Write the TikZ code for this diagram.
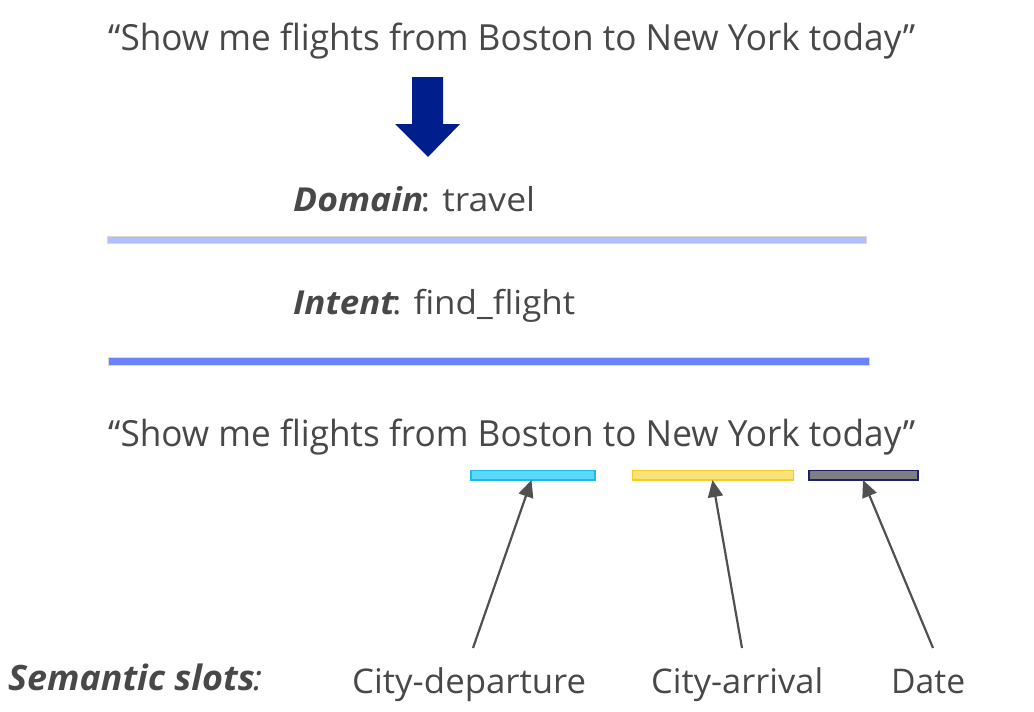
\documentclass[tikz,border=0pt]{standalone}
\usepackage{fontspec}
\setmainfont{Open Sans}
\usepackage{graphicx}
\usetikzlibrary{arrows.meta}
\definecolor{txt}{HTML}{484848}
\definecolor{navy}{RGB}{0,30,140}
\definecolor{lineA}{HTML}{B3BEFA}
\definecolor{lineB}{HTML}{6A82FA}
\definecolor{cyanfill}{HTML}{5CD9FA}
\definecolor{cyanedge}{HTML}{1FB8E8}
\definecolor{yelfill}{HTML}{FAE27A}
\definecolor{yeledge}{HTML}{F5CC20}
\definecolor{grayfill}{HTML}{7F7F7F}
\definecolor{grayedge}{HTML}{1A1F6E}
\definecolor{arr}{HTML}{505050}
\newcommand{\fitw}[2]{\resizebox{#1pt}{\height}{#2}}
\begin{document}
\begin{tikzpicture}[x=1pt,y=-1pt,
  lbl/.style={text=txt, inner sep=0pt, anchor=base west},
  sep/.style={draw=black!15, line width=0.6pt, inner sep=0pt, minimum height=#1},
  slot/.style={inner sep=0pt, minimum height=9.5pt, line width=1.5pt},
  ptr/.style={draw=arr, line width=2.2pt, -{Triangle[length=17pt,width=15pt]}}]
\useasboundingbox (0,0) rectangle (1034,712);

% sentence 1
\node[lbl, font=\fontsize{36}{40}\selectfont] (q1) at (108,50)
  {\fitw{807}{“Show me flights from Boston to New York today”}};

% block arrow
\fill[navy] (412,77) -- (443,77) -- (443,124) -- (460,124) -- (428,157)
  -- (395,124) -- (412,124) -- cycle;

% domain
\node[lbl, font=\fontsize{33}{36}\selectfont] (dom) at (293,211)
  {\fitw{242}{{\bfseries\itshape Domain}\kern-2.5pt: travel}};
\node[sep=7pt, fill=lineA, minimum width=759pt, anchor=west] (l1) at (107,239.5) {};

% intent
\node[lbl, font=\fontsize{33}{36}\selectfont] (int) at (293,314)
  {\fitw{282}{{\bfseries\itshape Intent}\kern-2.5pt: find\_flight}};
\node[sep=8pt, fill=lineB, minimum width=761pt, anchor=west] (l2) at (108,361) {};

% sentence 2
\node[lbl, font=\fontsize{36}{40}\selectfont] (q2) at (108,446)
  {\fitw{807}{“Show me flights from Boston to New York today”}};

% slot bars
\node[slot, draw=cyanedge, fill=cyanfill, minimum width=124pt, anchor=north west] (s1) at (470,469.5) {};
\node[slot, draw=yeledge, fill=yelfill, minimum width=161pt, anchor=north west] (s2) at (631.5,469.5) {};
\node[slot, draw=grayedge, fill=grayfill, minimum width=109pt, anchor=north west] (s3) at (808,469.5) {};

% labels
\node[lbl, font=\fontsize{35}{38}\selectfont] (sem) at (8,690)
  {\fitw{254}{{\bfseries\itshape Semantic slots}\kern-1.5pt{\itshape :}}};
\node[lbl, font=\fontsize{34}{38}\selectfont] (c1) at (352,693) {\fitw{234}{City-departure}};
\node[lbl, font=\fontsize{34}{38}\selectfont] (c2) at (651,693) {\fitw{172}{City-arrival}};
\node[lbl, font=\fontsize{34}{38}\selectfont] (c3) at (891,693) {\fitw{74}{Date}};

% pointers
\coordinate (p1) at (473,648);
\coordinate (p2) at (742,648);
\coordinate (p3) at (933,648);
\coordinate (t1) at (531.5,480);
\coordinate (t2) at (712.5,480);
\coordinate (t3) at (863,480);
\draw[ptr] (p1) -- (t1);
\draw[ptr] (p2) -- (t2);
\draw[ptr] (p3) -- (t3);
\end{tikzpicture}
\end{document}
